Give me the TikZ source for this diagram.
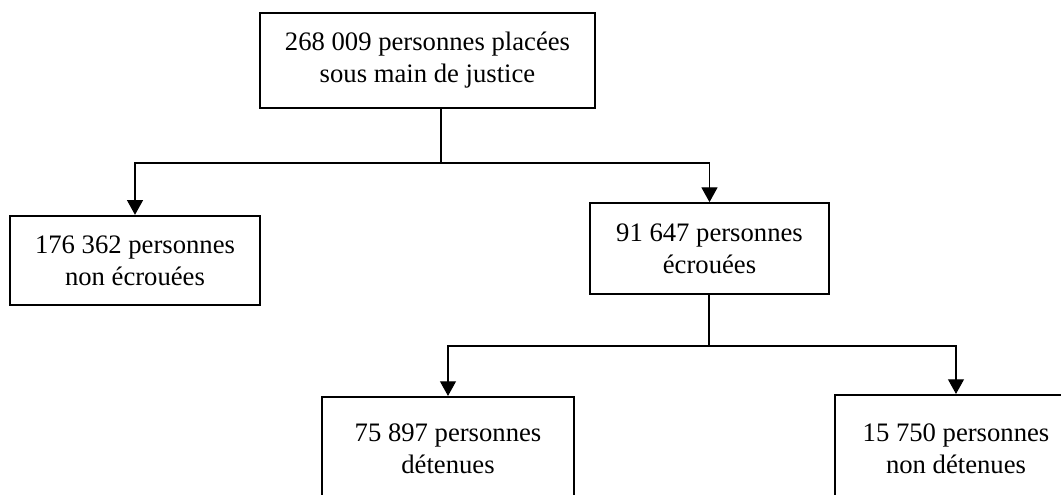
\documentclass[tikz,border=0pt]{standalone}
\usepackage{fontspec}
\setmainfont{Liberation Serif}
\usetikzlibrary{arrows.meta}

\tikzset{
  boite/.style={draw, line width=1.6pt, align=center, inner sep=0pt,
    font=\fontsize{20}{24}\selectfont},
  fleche/.style={line width=0.8pt, -{Triangle[length=11pt,width=12pt]}}
}

\begin{document}
\begin{tikzpicture}[x=0.75pt,y=-0.75pt]
  \useasboundingbox (0,0) rectangle (1061,494);
  % les cinq boites
  \node [boite,minimum width=251pt,minimum height=71pt] (racine) at (427.5,60.5)
    {268 009 personnes placées\\sous main de justice};
  \node [boite,minimum width=187.5pt,minimum height=67pt] (nonecroues) at (135,260.5)
    {176 362 personnes\\non écrouées};
  \node [boite,minimum width=179pt,minimum height=68pt] (ecroues) at (709.5,248.5)
    {91 647 personnes\\écrouées};
  \node [boite,minimum width=189pt,minimum height=78pt] (detenues) at (448,449)
    {75 897 personnes\\détenues};
  \node [boite,minimum width=181.5pt,minimum height=81pt] (nondetenues) at (956,449)
    {15 750 personnes\\non détenues};
  % embranchements
  \coordinate (embr1) at (441,163);
  \coordinate (embr2) at (709,346);
  \draw [line width=0.8pt] (racine.south -| embr1) -- (embr1);
  \draw [fleche] (embr1) -| (nonecroues.north);
  \draw [fleche] (embr1) -| (ecroues.north);
  \draw [line width=0.8pt] (ecroues.south -| embr2) -- (embr2);
  \draw [fleche] (embr2) -| (detenues.north);
  \draw [fleche] (embr2) -| (nondetenues.north);
\end{tikzpicture}
\end{document}
